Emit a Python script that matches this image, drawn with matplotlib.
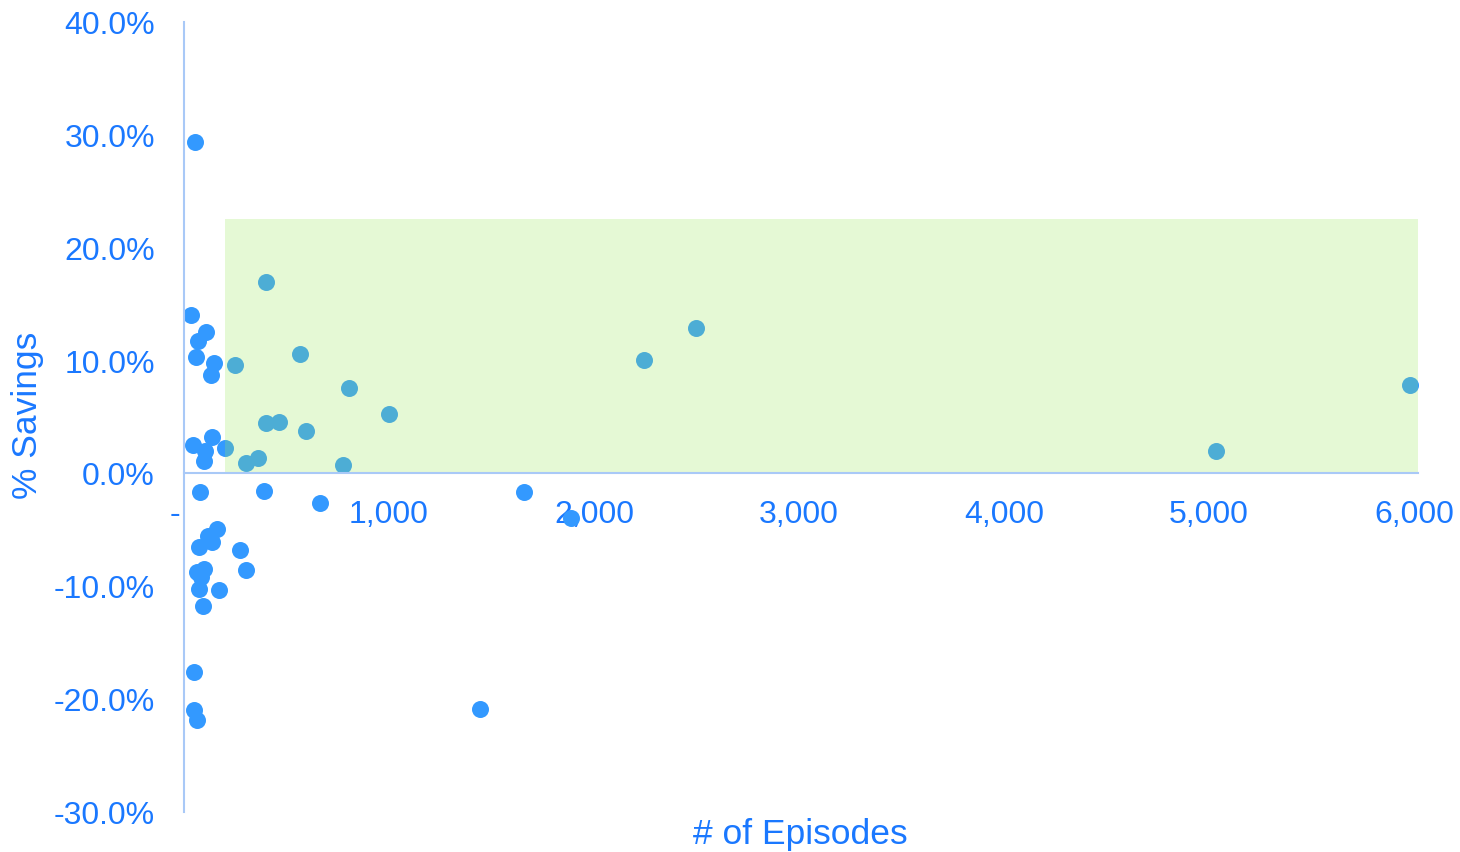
import matplotlib.pyplot as plt
import numpy as np

plt.rcParams['font.family'] = ['Liberation Sans', 'DejaVu Sans']

# number of episodes and % savings per provider
episodes = [54, 34, 107, 68, 59, 146, 132, 249, 400, 566, 805, 1000, 400, 463,
            595, 44, 137, 102, 98, 200, 302, 361, 776, 2244, 2498, 5034, 5980,
            78, 390, 663, 1659, 1888, 161, 117, 137, 73, 273, 302, 98, 63, 83,
            73, 171, 93, 49, 49, 63, 1444]
savings = [29.3, 14.0, 12.5, 11.7, 10.3, 9.7, 8.7, 9.6, 16.9, 10.5, 7.5, 5.2,
           4.4, 4.5, 3.7, 2.5, 3.2, 1.9, 1.1, 2.2, 0.9, 1.3, 0.7, 10.0, 12.8,
           1.9, 7.8, -1.7, -1.6, -2.7, -1.7, -4.0, -5.0, -5.6, -6.1, -6.6,
           -6.8, -8.6, -8.5, -8.8, -9.2, -10.3, -10.4, -11.8, -17.6, -21.0,
           -21.9, -20.9]

# target zone: at least 200 episodes and 0-22.5% savings
zone_x = [200, 6020]
zone_y = [0, 22.5]

x_ticks = [0, 1000, 2000, 3000, 4000, 5000, 6000]
y_ticks = [-30, -20, -10, 0, 10, 20, 30, 40]

text_blue = '#1a78ff'
dot_blue = '#3399ff'
axis_blue = '#a9c9f7'

fig = plt.figure(figsize=(14.6, 8.53), dpi=100)
ax = fig.add_axes([184 / 1460, 1 - 812.5 / 853, (1418 - 184) / 1460, (812.5 - 22.5) / 853])

ax.scatter(episodes, savings, s=150, color=dot_blue, linewidths=0, zorder=2)
ax.fill_between(zone_x, zone_y[0], zone_y[1], color='#9be85d', alpha=0.26,
                linewidth=0, zorder=3)

ax.set_xlim(0, 6020)
ax.set_ylim(-30, 40)

ax.set_xticks(x_ticks)
ax.set_xticklabels(['-  ' if v == 0 else f'{v:,}' for v in x_ticks])
ax.set_yticks(y_ticks)
ax.set_yticklabels([f'{v:.1f}%' for v in y_ticks])
ax.tick_params(axis='both', length=0, labelsize=23, colors=text_blue)
ax.tick_params(axis='x', pad=19)
ax.tick_params(axis='y', pad=21)

ax.spines['top'].set_visible(False)
ax.spines['right'].set_visible(False)
ax.spines['bottom'].set_position(('data', 0))
for side in ('left', 'bottom'):
    ax.spines[side].set_color(axis_blue)
    ax.spines[side].set_linewidth(1.5)
    ax.spines[side].set_zorder(4)

fig.text(28 / 1460, 1 - 415 / 853, '% Savings', rotation=90, ha='center',
         va='center', fontsize=25.5, color=text_blue)
fig.text(800 / 1460, 1 - 835 / 853, '# of Episodes', ha='center',
         va='center', fontsize=25.5, color=text_blue)

fig.savefig('out.png', dpi=100)
